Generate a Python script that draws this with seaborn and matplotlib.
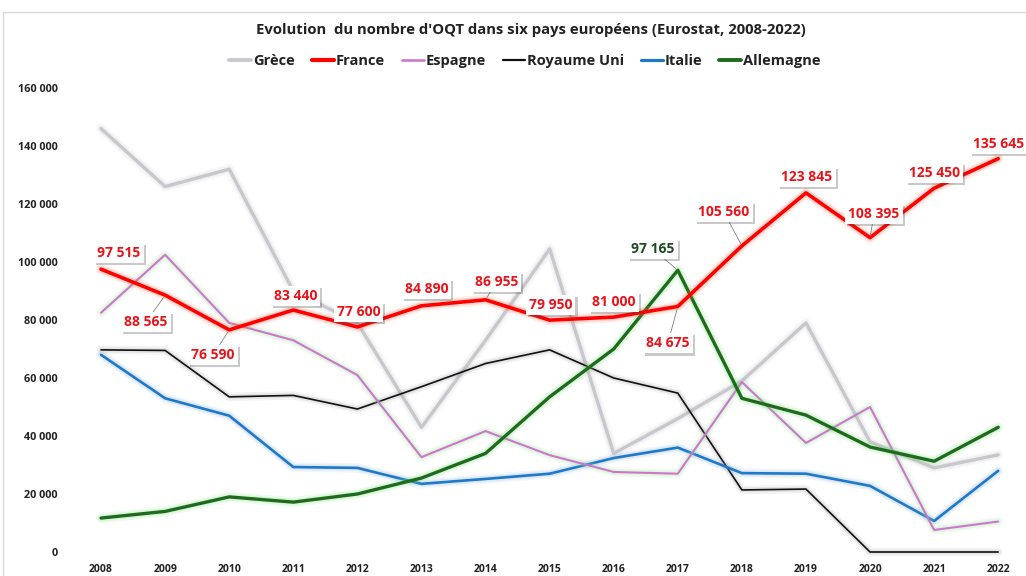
import matplotlib
matplotlib.use("Agg")
import matplotlib.pyplot as plt
import matplotlib.patheffects as pe
from matplotlib.lines import Line2D
import pandas as pd
import seaborn as sns

years = list(range(2008, 2023))
grece = [146000, 126000, 132000, 90000, 79000, 43000, 73000, 104500, 34000, 46000, 59000, 79000, 38000, 29000, 33500]
france = [97515, 88565, 76590, 83440, 77600, 84890, 86955, 79950, 81000, 84675, 105560, 123845, 108395, 125450, 135645]
espagne = [82500, 102500, 79000, 73000, 61000, 32700, 41700, 33400, 27600, 27000, 58600, 37600, 50000, 7600, 10500]
royaume_uni = [69700, 69500, 53500, 54000, 49300, 57000, 65000, 69700, 60000, 54800, 21400, 21700, 0, 0, 0]
italie = [68000, 53000, 47000, 29300, 29000, 23500, 25200, 27000, 32400, 36000, 27200, 27000, 22800, 10700, 28000]
allemagne = [11700, 14000, 19000, 17200, 20000, 25500, 34000, 53500, 70000, 97165, 53000, 47200, 36200, 31300, 43000]

countries = ["Grèce", "France", "Espagne", "Royaume Uni", "Italie", "Allemagne"]
series = [grece, france, espagne, royaume_uni, italie, allemagne]

# label offsets in pixels (dx, dy) for France, and whether a leader line is drawn
fr_offsets = [(18, 16, False), (-19, -27, True), (-16, -25, True), (2, 14, False), (1, 15, False),
              (5, 17, False), (11, 18, True), (1, 15, False), (0, 15, False), (-10, -37, True),
              (-18, 34, True), (1, 16, False), (4, 24, True), (0, 15, False), (0, 15, False)]

df = pd.DataFrame({
    "year": years * len(countries),
    "x": list(range(len(years))) * len(countries),
    "pays": [c for c in countries for _ in years],
    "valeur": [v for s in series for v in s],
})

colors = {"Grèce": "#c8c8cc", "France": "#ff0000", "Espagne": "#cc77cc",
          "Royaume Uni": "#111111", "Italie": "#1f78c8", "Allemagne": "#1e6b1e"}
widths = {"Grèce": 2.4, "France": 2.6, "Espagne": 1.5,
          "Royaume Uni": 1.2, "Italie": 1.9, "Allemagne": 2.4}
glows = {"Grèce": "#a0a0a8", "France": "#ff6a4a", "Espagne": "#8fe08f",
         "Royaume Uni": "#909090", "Italie": "#6fa0e0", "Allemagne": "#7fe07f"}
glow_alpha = {"Grèce": 0.07, "France": 0.14, "Espagne": 0.14,
              "Royaume Uni": 0.12, "Italie": 0.12, "Allemagne": 0.14}
draw_order = ["Grèce", "Royaume Uni", "Italie", "Espagne", "Allemagne", "France"]
zorders = {c: 2 + i for i, c in enumerate(draw_order)}

sns.set_theme(style="white")
plt.rcParams["font.family"] = ["Open Sans", "DejaVu Sans"]
plt.rcParams["font.weight"] = "bold"

fig = plt.figure(figsize=(10.26, 5.76), dpi=100)
ax = fig.add_axes([69 / 1026, 24 / 576, 951 / 1026, 464 / 576])

for c in draw_order:
    sub = df[df.pays == c]
    sns.lineplot(data=sub, x="x", y="valeur", ax=ax, color=colors[c], lw=widths[c],
                 legend=False, zorder=zorders[c])
    ln = ax.lines[-1]
    ln.set_clip_on(False)
    a = glow_alpha[c]
    ln.set_path_effects([pe.Stroke(linewidth=widths[c] + 5, foreground=glows[c], alpha=a * 0.8),
                         pe.Stroke(linewidth=widths[c] + 2.5, foreground=glows[c], alpha=a * 1.3),
                         pe.Normal()])

ax.set_xlim(-0.5, 14.34)
ax.set_ylim(0, 160000)
ax.set_xticks(range(len(years)))
ax.set_xticklabels([str(y) for y in years], fontsize=7.5, fontweight="bold")
ax.set_yticks(range(0, 160001, 20000))
ax.set_yticklabels([f"{v:,}".replace(",", " ") for v in range(0, 160001, 20000)],
                   fontsize=7.8, fontweight="bold")
ax.tick_params(axis="x", length=0, pad=9, colors="#222222")
ax.tick_params(axis="y", length=0, pad=8, colors="#222222")
ax.set_xlabel("")
ax.set_ylabel("")
for s in ax.spines.values():
    s.set_visible(False)
ax.grid(False)


def fmt(v):
    return f"{v:,}".replace(",", " ")


def add_label(i, v, dx, dy, leader, color):
    arrow = dict(arrowstyle="-", color="#808080", lw=0.6, shrinkA=0, shrinkB=2) if leader else None
    t = ax.annotate(fmt(v), xy=(i, v), xytext=(dx, dy), textcoords="offset pixels",
                    ha="center", va="center", fontsize=10, fontweight="bold", color=color,
                    bbox=dict(boxstyle="square,pad=0.22", fc="white", ec="none"),
                    arrowprops=arrow, zorder=20, annotation_clip=False)
    t.get_bbox_patch().set_path_effects([pe.SimplePatchShadow(offset=(1.5, -1.5), alpha=0.3),
                                         pe.Normal()])


for i, (v, (dx, dy, leader)) in enumerate(zip(france, fr_offsets)):
    add_label(i, v, dx, dy, leader, "#e8141a")
add_label(9, allemagne[9], -25, 21, True, "#1e4d1e")

fig.text(531 / 1026, 1 - 30 / 576,
         "Evolution  du nombre d'OQT dans six pays européens (Eurostat, 2008-2022)",
         ha="center", va="center", fontsize=10.7, fontweight="bold", color="#222222")

handles = [Line2D([], [], color=colors[c], lw=widths[c] + 0.4) for c in countries]
leg = fig.legend(handles, countries, loc="center", bbox_to_anchor=(525 / 1026, 1 - 61 / 576),
                 ncol=6, frameon=False, handlelength=1.5, handletextpad=0.15,
                 columnspacing=1.15, prop={"weight": "bold", "size": 10.5})
for t in leg.get_texts():
    t.set_color("#222222")

# light frame of the chart area
fig.add_artist(Line2D([3 / 1026, 3 / 1026], [0, 1 - 12 / 576], transform=fig.transFigure,
                      color="#d9d9d9", lw=1))
fig.add_artist(Line2D([3 / 1026, 1], [1 - 12 / 576, 1 - 12 / 576], transform=fig.transFigure,
                      color="#d9d9d9", lw=1))

fig.savefig("out.png", dpi=100, facecolor="white")
